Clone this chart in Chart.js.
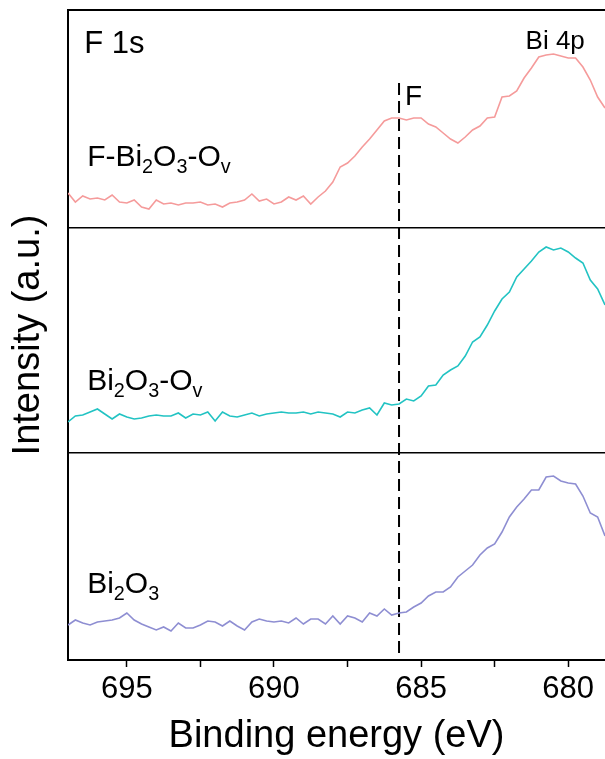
<!DOCTYPE html>
<html>
<head>
<meta charset="utf-8">
<script src="https://cdn.jsdelivr.net/npm/chart.js@4.4.0/dist/chart.umd.min.js"></script>
<style>
  body { margin: 0; background: #fff; }
  #wrap { width: 605px; height: 759px; }
</style>
</head>
<body>
<div id="wrap"><canvas id="myChart" width="605" height="759"></canvas></div>
<script>
// binding energy (eV), every 0.25 eV
var energy = [697, 696.75, 696.5, 696.25, 696, 695.75, 695.5, 695.25, 695, 694.75,
  694.5, 694.25, 694, 693.75, 693.5, 693.25, 693, 692.75, 692.5, 692.25,
  692, 691.75, 691.5, 691.25, 691, 690.75, 690.5, 690.25, 690, 689.75,
  689.5, 689.25, 689, 688.75, 688.5, 688.25, 688, 687.75, 687.5, 687.25,
  687, 686.75, 686.5, 686.25, 686, 685.75, 685.5, 685.25, 685, 684.75,
  684.5, 684.25, 684, 683.75, 683.5, 683.25, 683, 682.75, 682.5, 682.25,
  682, 681.75, 681.5, 681.25, 681, 680.75, 680.5, 680.25, 680, 679.75,
  679.5, 679.25, 679, 678.75]

// intensity (a.u.) above each panel's bottom line
var fBi2O3Ov = [35, 26, 32, 29, 30, 28, 33, 26, 25, 28, 21, 19, 28, 24, 25, 23, 25, 25, 26, 23,
  24, 21, 25, 26, 28, 34, 27, 29, 24, 26, 31, 28, 32, 24, 31, 37, 46, 61, 65, 72,
  81, 89, 98, 107, 110, 110, 108, 110, 110, 104, 101, 95, 89, 85, 91, 98, 102, 110, 111, 131,
  132, 137, 150, 160, 171, 173, 174, 172, 170, 170, 161, 148, 131, 120]
var bi2O3Ov = [31, 37, 38, 41, 44, 39, 34, 39, 36, 34, 35, 37, 38, 37, 37, 40, 35, 39, 38, 41,
  32, 41, 37, 36, 38, 40, 37, 39, 40, 41, 40, 40, 41, 39, 41, 40, 39, 36, 41, 40,
  43, 45, 38, 50, 48, 49, 54, 52, 57, 67, 68, 78, 83, 87, 97, 111, 116, 128, 142, 154,
  161, 176, 184, 192, 201, 206, 203, 205, 201, 195, 190, 173, 164, 148]
var bi2O3 = [35, 40, 37, 35, 38, 39, 40, 42, 47, 40, 36, 33, 30, 33, 29, 37, 32, 32, 35, 39,
  38, 34, 39, 34, 30, 38, 41, 39, 38, 39, 37, 42, 36, 41, 41, 36, 44, 36, 44, 42,
  38, 47, 44, 51, 45, 47, 48, 53, 57, 64, 68, 68, 73, 83, 89, 95, 105, 112, 116, 128,
  143, 153, 161, 170, 170, 183, 184, 179, 177, 176, 164, 147, 143, 124]

var xTicks = [695, 692.5, 690, 687.5, 685, 682.5, 680]
var fPosition = 685.75

// panels share one y axis; bottom line of each panel and the top of the frame
var panelBase = [432, 207, 0]
var yTop = 650

var FONT = '"Liberation Sans", Arial, sans-serif'

function shift(vals, off) {
  return vals.map(function (v, i) { return { x: energy[i], y: v + off } })
}

// text labels placed in data coordinates; [text, isSubscript]
var notes = [
  { x: 696.45, y: 607, size: 31, parts: [['F 1s', 0]] },
  { x: 681.45, y: 611, size: 26, parts: [['Bi 4p', 0]] },
  { x: 685.55, y: 555, size: 28, parts: [['F', 0]] },
  { x: 696.35, y: 494, size: 30, parts: [['F-Bi', 0], ['2', 1], ['O', 0], ['3', 1], ['-O', 0], ['v', 1]] },
  { x: 696.35, y: 270, size: 30, parts: [['Bi', 0], ['2', 1], ['O', 0], ['3', 1], ['-O', 0], ['v', 1]] },
  { x: 696.35, y: 67, size: 30, parts: [['Bi', 0], ['2', 1], ['O', 0], ['3', 1]] }
]

var notePlugin = {
  id: 'notes',
  afterDatasetsDraw: function (chart) {
    var ctx = chart.ctx
    var sx = chart.scales.x, sy = chart.scales.y
    ctx.save()
    ctx.fillStyle = '#000'
    ctx.textBaseline = 'alphabetic'
    ctx.textAlign = 'left'
    notes.forEach(function (n) {
      var px = sx.getPixelForValue(n.x)
      var py = sy.getPixelForValue(n.y)
      n.parts.forEach(function (p) {
        var sz = p[1] ? n.size * 0.66 : n.size
        ctx.font = sz + 'px ' + FONT
        ctx.fillText(p[0], px, p[1] ? py + n.size * 0.22 : py)
        px += ctx.measureText(p[0]).width
      })
    })
    ctx.restore()
  }
}

var ctx = document.getElementById('myChart')
var myChart = new Chart(ctx, {
  type: 'line',
  data: {
    datasets: [
      { label: 'F-Bi2O3-Ov', data: shift(fBi2O3Ov, panelBase[0]), borderColor: '#f59b9b', borderWidth: 1.6 },
      { label: 'Bi2O3-Ov', data: shift(bi2O3Ov, panelBase[1]), borderColor: '#22c3c3', borderWidth: 1.6 },
      { label: 'Bi2O3', data: shift(bi2O3, panelBase[2]), borderColor: '#8e8ed2', borderWidth: 1.6 },
      { label: 'F', data: [{ x: fPosition, y: 7 }, { x: fPosition, y: 581 }],
        borderColor: '#000', borderWidth: 2, borderDash: [12, 6] }
    ]
  },
  options: {
    responsive: false,
    animation: false,
    events: [],
    layout: { padding: { top: 10, right: 0, left: 0, bottom: 0 } },
    elements: { point: { radius: 0 }, line: { tension: 0 } },
    plugins: { legend: { display: false }, tooltip: { enabled: false } },
    scales: {
      x: {
        type: 'linear',
        reverse: true,
        min: 678.75,
        max: 697,
        afterBuildTicks: function (s) { s.ticks = xTicks.map(function (v) { return { value: v } }) },
        afterFit: function (s) { s.height = 99 },
        grid: { drawOnChartArea: false, tickLength: 7, tickColor: '#000', tickWidth: 1.5 },
        border: { color: '#000', width: 2 },
        ticks: {
          color: '#000',
          font: { family: FONT, size: 31 },
          padding: 4,
          maxRotation: 0,
          callback: function (v) { return v % 5 === 0 ? String(v) : '' }
        },
        title: {
          display: true,
          text: 'Binding energy (eV)',
          color: '#000',
          font: { family: FONT, size: 38 },
          padding: { top: 0, bottom: 0 }
        }
      },
      y: {
        min: 0,
        max: yTop,
        afterBuildTicks: function (s) {
          s.ticks = [panelBase[1], panelBase[0], yTop].map(function (v) { return { value: v } })
        },
        afterFit: function (s) { s.width = 68 },
        grid: { drawTicks: false, color: '#000', lineWidth: function (c) { return c.tick && c.tick.value === yTop ? 2 : 1.6 } },
        border: { color: '#000', width: 2 },
        ticks: { display: false },
        title: {
          display: true,
          text: 'Intensity (a.u.)',
          color: '#000',
          font: { family: FONT, size: 38 },
          padding: { top: 6, bottom: 0 }
        }
      }
    }
  },
  plugins: [notePlugin]
})
</script>
</body>
</html>
